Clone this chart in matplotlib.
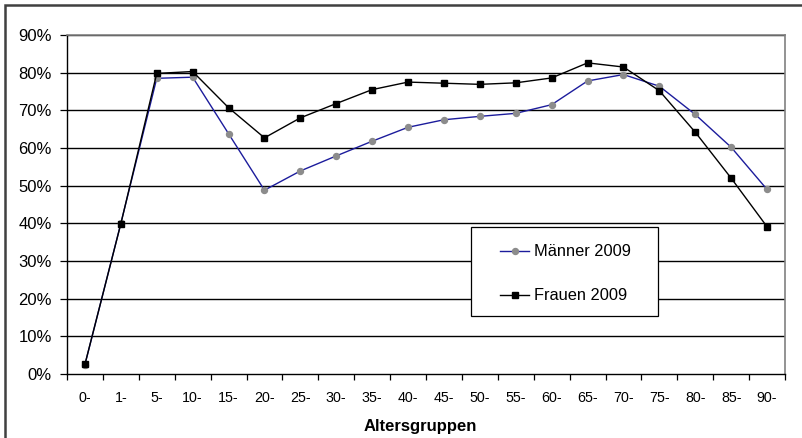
import matplotlib
matplotlib.use("Agg")
import matplotlib.pyplot as plt
from matplotlib.patches import Rectangle
from matplotlib.lines import Line2D
from matplotlib.ticker import FuncFormatter, FixedLocator

categories = ["0-", "1-", "5-", "10-", "15-", "20-", "25-", "30-", "35-", "40-",
              "45-", "50-", "55-", "60-", "65-", "70-", "75-", "80-", "85-", "90-"]
maenner = [2.5, 40.0, 78.5, 78.8, 63.8, 48.8, 53.9, 57.9, 61.8, 65.5,
           67.5, 68.4, 69.2, 71.5, 77.8, 79.5, 76.4, 68.9, 60.2, 49.0]
frauen = [2.6, 39.9, 79.8, 80.3, 70.7, 62.7, 68.0, 71.8, 75.5, 77.5,
          77.2, 76.9, 77.3, 78.6, 82.6, 81.5, 75.2, 64.2, 52.0, 39.1]
yticks = [0, 10, 20, 30, 40, 50, 60, 70, 80, 90]
series_labels = ["Männer 2009", "Frauen 2009"]

plt.rcParams['font.family'] = ['Liberation Sans', 'DejaVu Sans']

W, H = 802, 438
fig = plt.figure(figsize=(W / 100, H / 100), dpi=100)
ax = fig.add_axes([67 / W, 1 - 374 / H, (785 - 67) / W, (374 - 35) / H])

n = len(categories)
x = list(range(n))
ax.set_xlim(-0.5, n - 0.5)
ax.set_ylim(0, 90)

for v in yticks[1:]:
    ax.axhline(v, color="#000000", lw=1.0, zorder=1)

m_style = dict(color="#1c1c9c", lw=1.0, marker="o", markersize=4.3,
               markerfacecolor="#8c8c8c", markeredgecolor="#8c8c8c")
f_style = dict(color="#000000", lw=1.0, marker="s", markersize=4.6,
               markerfacecolor="#000000", markeredgecolor="#000000")
ax.plot(x, maenner, zorder=3, **m_style)
ax.plot(x, frauen, zorder=4, **f_style)

ax.set_yticks(yticks)
ax.yaxis.set_major_formatter(FuncFormatter(lambda v, p: f"{int(v)}%"))
ax.set_xticks(x)
ax.set_xticklabels(categories)
ax.xaxis.set_minor_locator(FixedLocator([i - 0.5 for i in range(n + 1)]))
ax.tick_params(axis="x", which="major", length=0, pad=12, labelsize=10.3)
ax.tick_params(axis="x", which="minor", length=4, width=0.9, direction="out")
ax.tick_params(axis="y", length=5, width=0.9, direction="out", labelsize=12, pad=6)

for s in ["top", "right"]:
    ax.spines[s].set_color("#808080")
    ax.spines[s].set_linewidth(1.2)
for s in ["left", "bottom"]:
    ax.spines[s].set_color("#000000")
    ax.spines[s].set_linewidth(1.0)

fig.text(420 / W, 1 - 426 / H, "Altersgruppen", fontweight="bold", fontsize=12,
         ha="center", va="center")

# legend (drawn manually to match the box geometry)
lx0, ly0, lx1, ly1 = 471, 227, 658, 316
fig.patches.append(Rectangle((lx0 / W, 1 - ly1 / H), (lx1 - lx0) / W, (ly1 - ly0) / H,
                             transform=fig.transFigure, facecolor="white",
                             edgecolor="#000000", lw=0.9, zorder=10))
for ypix, style, lab in [(251, m_style, series_labels[0]), (295, f_style, series_labels[1])]:
    ln = Line2D([500 / W, 529 / W], [1 - ypix / H, 1 - ypix / H], transform=fig.transFigure,
                markevery=[], zorder=11, **style)
    fig.lines.append(ln)
    mk = Line2D([514.5 / W], [1 - ypix / H], transform=fig.transFigure, zorder=12,
                linestyle="none", **{k: v for k, v in style.items() if k != "lw"})
    fig.lines.append(mk)
    fig.text(534 / W, 1 - ypix / H, lab, fontsize=11.8, ha="left", va="center", zorder=12)

fig.patches.append(Rectangle((5 / W, -0.05), 1.2, 1 - 5.5 / H + 0.05, transform=fig.transFigure,
                             fill=False, edgecolor="#404040", lw=1.8))

fig.savefig("out.png", dpi=100)
